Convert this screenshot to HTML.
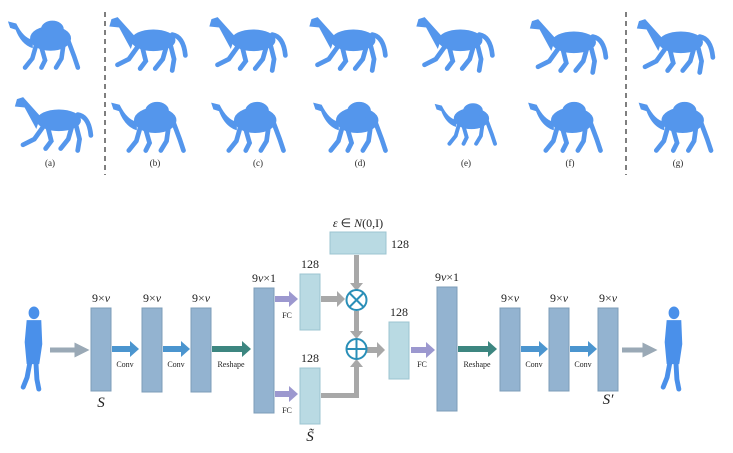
<!DOCTYPE html>
<html><head><style>
body{margin:0;background:#fff;}
svg{display:block;font-family:"Liberation Serif",serif;}
</style></head><body>
<svg width="733" height="453" viewBox="0 0 733 453" xmlns="http://www.w3.org/2000/svg">
<defs>
<symbol id="horse" viewBox="0 0 90 70">
  <g fill="#5496ec" stroke="#5496ec" stroke-linecap="round">
    <ellipse cx="48" cy="30" rx="23" ry="11"/>
    <path d="M28 26 L10 6 L4 8 L2 15 L12 16 L24 38 Z"/>
    <path d="M68 24 Q80 26 82 46" fill="none" stroke-width="5"/>
    <path d="M32 36 L22 50 L10 56" fill="none" stroke-width="5"/>
    <path d="M36 36 L40 52 L34 60" fill="none" stroke-width="5"/>
    <path d="M62 36 L58 50 L50 60" fill="none" stroke-width="5"/>
    <path d="M66 34 L70 50 L68 62" fill="none" stroke-width="5"/>
  </g>
</symbol>
<symbol id="camel" viewBox="0 0 90 70">
  <g fill="#5496ec" stroke="#5496ec" stroke-linecap="round">
    <ellipse cx="50" cy="30" rx="22" ry="13"/>
    <ellipse cx="52" cy="20" rx="12" ry="9"/>
    <path d="M30 32 Q20 30 12 14 L4 12 L6 18 L12 20 Q18 36 30 40 Z"/>
    <path d="M34 38 L30 52 L22 62" fill="none" stroke-width="5"/>
    <path d="M40 40 L44 54 L40 62" fill="none" stroke-width="5"/>
    <path d="M64 38 L62 52 L56 62" fill="none" stroke-width="5"/>
    <path d="M70 34 L76 50 L80 62" fill="none" stroke-width="5"/>
  </g>
</symbol>
<symbol id="man" viewBox="0 0 30 90">
  <g fill="#4a90ea" stroke="#4a90ea" stroke-linecap="round">
    <ellipse cx="17" cy="8" rx="5" ry="6"/>
    <path d="M10 16 L24 16 L25 40 L22 60 L10 60 L8 38 Z"/>
    <path d="M13 58 L10 74 L6 84" fill="none" stroke-width="5"/>
    <path d="M19 58 L20 76 L22 86" fill="none" stroke-width="5"/>
  </g>
</symbol>
<marker id="ag" markerWidth="3" markerHeight="3" refX="1.5" refY="1.5" orient="auto"><path d="M0 0L3 1.5L0 3Z" fill="#9aa9b6"/></marker>
</defs>

<use href="#camel" x="5" y="10" width="82" height="66"/>
<use href="#horse" x="10" y="92" width="92" height="66"/>
<use href="#horse" x="108" y="12" width="85" height="66"/>
<use href="#camel" x="108" y="92" width="85" height="66"/>
<use href="#horse" x="208" y="12" width="85" height="66"/>
<use href="#camel" x="208" y="92" width="85" height="66"/>
<use href="#horse" x="308" y="12" width="85" height="66"/>
<use href="#camel" x="310" y="92" width="85" height="66"/>
<use href="#horse" x="415" y="12" width="85" height="66"/>
<use href="#camel" x="420" y="95" width="95" height="55"/>
<use href="#horse" x="525" y="14" width="92" height="66"/>
<use href="#camel" x="525" y="92" width="85" height="66"/>
<use href="#horse" x="632" y="14" width="92" height="66"/>
<use href="#camel" x="632" y="92" width="92" height="66"/>
<line x1="105" y1="12" x2="105" y2="175" stroke="#555" stroke-width="1.5" stroke-dasharray="5,4"/>
<line x1="626" y1="12" x2="626" y2="175" stroke="#555" stroke-width="1.5" stroke-dasharray="5,4"/>
<g font-size="9" text-anchor="middle" fill="#222">
<text x="50" y="166">(a)</text><text x="155" y="166">(b)</text><text x="258" y="166">(c)</text>
<text x="360" y="166">(d)</text><text x="466" y="166">(e)</text><text x="570" y="166">(f)</text><text x="678" y="166">(g)</text>
</g>

<use href="#man" x="17" y="305" width="30" height="88"/>
<use href="#man" x="657" y="305" width="30" height="88"/>

<g stroke-width="5">
<line x1="50" y1="350" x2="82" y2="350" stroke="#9aa9b6" marker-end="url(#ag)"/>
<line x1="622" y1="350" x2="650" y2="350" stroke="#9aa9b6" marker-end="url(#ag)"/>
</g>
<g>
<path d="M112 346h18v-5l9 8-9 8v-5h-18z" fill="#4b95cf"/>
<path d="M163 346h18v-5l9 8-9 8v-5h-18z" fill="#4b95cf"/>
<path d="M212 346h30v-5l9 8-9 8v-5h-30z" fill="#3d8680"/>
<path d="M521 346h18v-5l9 8-9 8v-5h-18z" fill="#4b95cf"/>
<path d="M570 346h18v-5l9 8-9 8v-5h-18z" fill="#4b95cf"/>
<path d="M458 346h30v-5l9 8-9 8v-5h-30z" fill="#3d8680"/>
<path d="M275 296h14v-5l9 8-9 8v-5h-14z" fill="#9c98cf"/>
<path d="M275 391h14v-5l9 8-9 8v-5h-14z" fill="#9c98cf"/>
<path d="M411 347h15v-5l9 8-9 8v-5h-15z" fill="#9c98cf"/>
</g>
<g fill="#a8a8a8">
<path d="M321 296h16v-5l8 8-8 8v-5h-16z"/>
<path d="M354 255h5v28h4l-6.5 8-6.5-8h4z"/>
<path d="M354 311h5v20h4l-6.5 8-6.5-8h4z"/>
<path d="M321 393h33v-26h-4l6.5-8 6.5 8h-4v31h-38z"/>
<path d="M367 347h10v-5l8 8-8 8v-5h-10z"/>
</g>
<circle cx="356.5" cy="300" r="10" fill="#fff" stroke="#2a8fb8" stroke-width="2"/>
<path d="M349.5 293l14 14M363.5 293l-14 14" stroke="#2a8fb8" stroke-width="2"/>
<circle cx="356.5" cy="349" r="10" fill="#fff" stroke="#2a8fb8" stroke-width="2"/>
<path d="M346.5 349h20M356.5 339v20" stroke="#2a8fb8" stroke-width="2"/>

<g fill="#93b3d0" stroke="#7d9cb8">
<rect x="91" y="308" width="20" height="83"/>
<rect x="142" y="308" width="20" height="84"/>
<rect x="191" y="308" width="20" height="84"/>
<rect x="254" y="288" width="20" height="125"/>
<rect x="437" y="287" width="20" height="124"/>
<rect x="500" y="308" width="20" height="83"/>
<rect x="549" y="308" width="20" height="83"/>
<rect x="598" y="308" width="20" height="83"/>
</g>
<g fill="#b9dae3" stroke="#9cc4d0">
<rect x="300" y="274" width="20" height="56"/>
<rect x="300" y="368" width="20" height="56"/>
<rect x="330" y="232" width="56" height="22"/>
<rect x="389" y="322" width="20" height="57"/>
</g>

<g font-size="12" fill="#222" text-anchor="middle">
<text x="101" y="302">9×<tspan font-style="italic">v</tspan></text>
<text x="152" y="302">9×<tspan font-style="italic">v</tspan></text>
<text x="201" y="302">9×<tspan font-style="italic">v</tspan></text>
<text x="510" y="302">9×<tspan font-style="italic">v</tspan></text>
<text x="559" y="302">9×<tspan font-style="italic">v</tspan></text>
<text x="608" y="302">9×<tspan font-style="italic">v</tspan></text>
<text x="264" y="282">9<tspan font-style="italic">v</tspan>×1</text>
<text x="447" y="281">9<tspan font-style="italic">v</tspan>×1</text>
<text x="310" y="268">128</text>
<text x="310" y="362">128</text>
<text x="399" y="316">128</text>
<text x="400" y="248">128</text>
<text x="358" y="227"><tspan font-style="italic">ε</tspan> ∈ <tspan font-style="italic">N</tspan>(0,I)</text>
</g>
<g font-size="8" fill="#222" text-anchor="middle">
<text x="125" y="367">Conv</text><text x="176" y="367">Conv</text><text x="231" y="367">Reshape</text>
<text x="287" y="318">FC</text><text x="287" y="413">FC</text><text x="422" y="367">FC</text>
<text x="477" y="367">Reshape</text><text x="534" y="367">Conv</text><text x="583" y="367">Conv</text>
</g>
<g font-size="15" font-style="italic" fill="#222" text-anchor="middle">
<text x="101" y="407">S</text>
<text x="310" y="441">S̃</text>
<text x="608" y="404">S′</text>
</g>
</svg>
</body></html>
